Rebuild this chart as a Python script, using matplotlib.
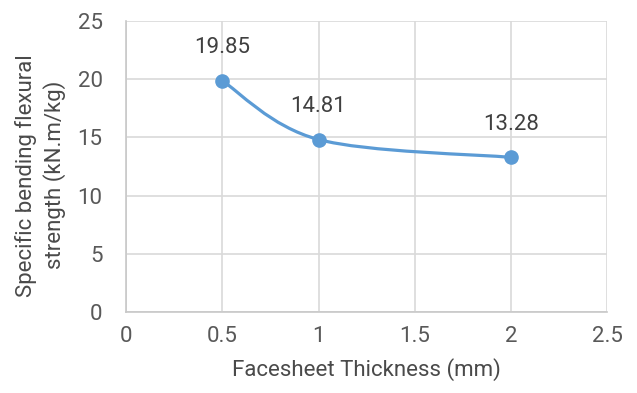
import numpy as np
import matplotlib.pyplot as plt
from matplotlib.path import Path
from matplotlib.patches import PathPatch

# data
thickness = [0.5, 1.0, 2.0]
strength = [19.85, 14.81, 13.28]
labels = ['19.85', '14.81', '13.28']

xticks = [0, 0.5, 1, 1.5, 2, 2.5]
xticklabels = ['0', '0.5', '1', '1.5', '2', '2.5']
yticks = [0, 5, 10, 15, 20, 25]

plt.rcParams['font.family'] = ['Roboto', 'DejaVu Sans']
plt.rcParams['font.weight'] = 'light'
txt = '#4A4A4A'
blue = '#5B9BD5'
fs = 16


def smooth_path(x, y):
    # Excel-like smoothed line: Catmull-Rom segments as cubic Beziers
    pts = np.column_stack([x, y]).astype(float)
    n = len(pts)
    verts = [pts[0]]
    codes = [Path.MOVETO]
    for i in range(n - 1):
        p0 = pts[i - 1] if i > 0 else pts[i]
        p1 = pts[i]
        p2 = pts[i + 1]
        p3 = pts[i + 2] if i + 2 < n else pts[i + 1]
        c1 = p1 + (p2 - p0) / 6.0
        c2 = p2 - (p3 - p1) / 6.0
        verts += [c1, c2, p2]
        codes += [Path.CURVE4] * 3
    return Path(verts, codes)


fig = plt.figure(figsize=(6.37, 3.93), dpi=100)
ax = fig.add_axes([0.198, 0.206, 0.755, 0.741])

ax.add_patch(PathPatch(smooth_path(thickness, strength), fill=False,
                       edgecolor=blue, lw=2.3, capstyle='round', zorder=3))
ax.plot(thickness, strength, 'o', color=blue, ms=9.5, zorder=4)

for x, y, s in zip(thickness, strength, labels):
    ax.annotate(s, (x, y), xytext=(0, 24), textcoords='offset points',
                ha='center', va='center', fontsize=fs, color='#404040',
                fontweight='normal')

ax.set_xlim(0, 2.5)
ax.set_ylim(0, 25)
ax.set_xticks(xticks)
ax.set_xticklabels(xticklabels, fontweight='normal')
ax.set_yticks(yticks)
ax.set_yticklabels([str(v) for v in yticks], fontweight='normal')
ax.grid(True, color='#D9D9D9', lw=1.2)
ax.set_axisbelow(True)
for s in ['top', 'right']:
    ax.spines[s].set_visible(False)
for s in ['bottom', 'left']:
    ax.spines[s].set_color('#C8C8C8')
    ax.spines[s].set_linewidth(1.2)
ax.tick_params(axis='y', length=0, labelsize=fs, colors='#595959', pad=17)
ax.tick_params(axis='x', length=0, labelsize=fs, colors='#595959', pad=10)

ax.set_xlabel('Facesheet Thickness (mm)', fontsize=fs, color=txt, labelpad=8)
ax.set_ylabel('Specific bending flexural\nstrength (kN.m/kg)', fontsize=fs,
              color=txt, linespacing=1.3, ha='center', va='center')
ax.yaxis.set_label_coords(-0.178, 0.47)

fig.savefig('out.png', dpi=100)
